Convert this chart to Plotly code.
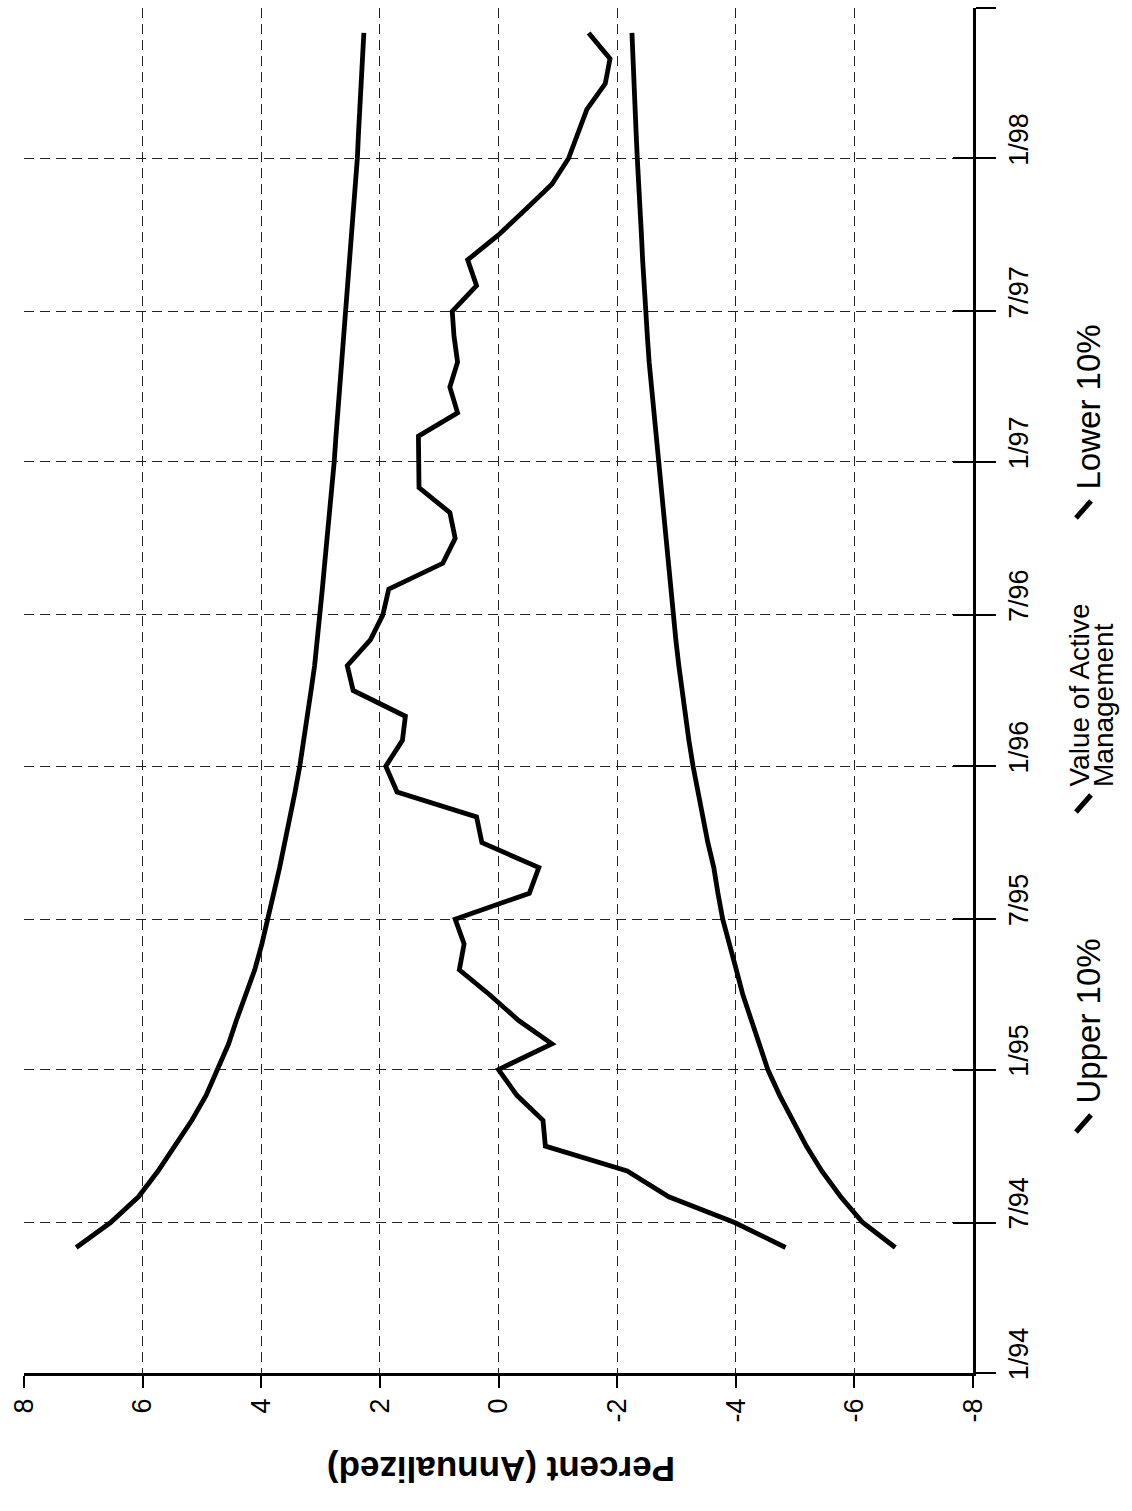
import pandas as pd
import plotly.graph_objects as go

# ---------------- data ----------------
months = pd.date_range("1994-06-01", "1998-06-01", freq="MS")

upper_10 = [7.12, 6.54, 6.07, 5.74, 5.46, 5.17, 4.93,
            4.73, 4.55, 4.42, 4.27, 4.11, 3.99, 3.90, 3.79, 3.69, 3.60, 3.51, 3.43,
            3.35, 3.28, 3.22, 3.16, 3.10, 3.05, 3.01, 2.97, 2.93, 2.89, 2.84, 2.80,
            2.77, 2.74, 2.71, 2.67, 2.64, 2.60, 2.56, 2.53, 2.50, 2.47, 2.43, 2.41,
            2.38, 2.36, 2.34, 2.33, 2.30, 2.27]

value_active = [-4.84, -3.98, -2.87, -2.17, -0.79, -0.75, -0.31,
                0.00, -0.90, -0.34, 0.15, 0.66, 0.58, 0.73, -0.52, -0.68, 0.28, 0.37, 1.71,
                1.90, 1.62, 1.57, 2.45, 2.55, 2.16, 1.95, 1.85, 0.94, 0.73, 0.82, 1.34,
                1.35, 1.35, 0.69, 0.82, 0.69, 0.75, 0.78, 0.37, 0.52, 0.00, -0.46, -0.90,
                -1.18, -1.35, -1.49, -1.80, -1.88, -1.52]

lower_10 = [-6.69, -6.14, -5.77, -5.45, -5.19, -4.95, -4.74,
            -4.54, -4.39, -4.25, -4.12, -4.01, -3.90, -3.78, -3.70, -3.63, -3.53, -3.44, -3.36,
            -3.28, -3.21, -3.15, -3.09, -3.04, -2.99, -2.95, -2.91, -2.87, -2.83, -2.79, -2.74,
            -2.69, -2.65, -2.62, -2.58, -2.54, -2.51, -2.48, -2.45, -2.43, -2.41, -2.38, -2.36,
            -2.34, -2.32, -2.30, -2.28, -2.26, -2.25]

date_ticks = ["1994-01-01", "1994-07-01", "1995-01-01", "1995-07-01", "1996-01-01",
              "1996-07-01", "1997-01-01", "1997-07-01", "1998-01-01", "1998-07-01"]
date_labels = ["1/94", "7/94", "1/95", "7/95", "1/96", "7/96", "1/97", "7/97", "1/98", ""]
pct_ticks = [8, 6, 4, 2, 0, -2, -4, -6, -8]
pct_labels = ["8", "6", "4", "2", "0", "-2", "-4", "-6", "-8"]

legend_names = ["Upper 10%", "Value of Active", "Management", "Lower 10%"]
axis_title = "Percent (Annualized)"

# ---------------- layout geometry (pixels) ----------------
W, H = 1132, 1511
L, R, T, B = 24, 973, 8, 1373
FONT = "Liberation Sans, Arial, Helvetica, sans-serif"


def px(x):
    return (x - L) / (R - L)


def py(y):
    return (B - y) / (B - T)


fig = go.Figure()
for series in (upper_10, value_active, lower_10):
    fig.add_trace(go.Scatter(x=series, y=months, mode="lines",
                             line=dict(color="black", width=4.8),
                             showlegend=False, hoverinfo="skip"))
# helper trace so the overlay axis (inside ticks) is drawn
fig.add_trace(go.Scatter(x=value_active, y=months, yaxis="y2", mode="lines",
                         line=dict(width=0), opacity=0, showlegend=False, hoverinfo="skip"))

yrange = ["1994-01-01", "1998-07-01"]

fig.update_layout(
    width=W, height=H,
    margin=dict(l=L, r=W - R, t=T, b=H - B, pad=0),
    paper_bgcolor="white", plot_bgcolor="white",
    font=dict(family=FONT, size=27, color="black"),
    xaxis=dict(range=[8, -8], tickvals=pct_ticks, ticktext=pct_labels,
               tickangle=-90, ticks="outside", ticklen=12, tickwidth=2, tickcolor="black",
               showline=True, linecolor="black", linewidth=2.5,
               showgrid=True, gridcolor="#222", gridwidth=1.2, griddash="10px,6px",
               zeroline=False, tickfont=dict(size=27)),
    yaxis=dict(type="date", range=yrange, side="right", tickvals=date_ticks, ticktext=date_labels,
               tickangle=-90, ticks="outside", ticklen=20, tickwidth=2, tickcolor="black",
               showline=True, linecolor="black", linewidth=2.5,
               showgrid=True, gridcolor="#222", gridwidth=1.2, griddash="10px,6px",
               zeroline=False, ticklabelshift=-15, tickfont=dict(size=27)),
    yaxis2=dict(type="date", range=yrange, side="right", overlaying="y",
                tickvals=date_ticks, ticks="inside", ticklen=20, tickwidth=2, tickcolor="black",
                showticklabels=False, showgrid=False, showline=False, zeroline=False),
)

# axis title (upside down, as in the rotated page)
fig.add_annotation(text="<b>" + axis_title + "</b>", xref="paper", yref="paper",
                   x=px(501), y=py(1470), textangle=180, showarrow=False,
                   font=dict(size=35, family=FONT), xanchor="center", yanchor="middle")

# custom legend
legend_items = [
    (legend_names[0], 1088, 1106, 33, (1076, 1132, 1091, 1115)),
    (legend_names[1], 1079, 789, 28, (1076, 812, 1091, 795)),
    (legend_names[2], 1103, 789, 28, None),
    (legend_names[3], 1088, 492, 33, (1076, 518, 1091, 501)),
]
for text, cx, by, fs, sl in legend_items:
    fig.add_annotation(text=text, xref="paper", yref="paper", x=px(cx), y=py(by),
                       textangle=-90, showarrow=False, xanchor="center", yanchor="bottom",
                       font=dict(size=fs, family=FONT))
    if sl:
        fig.add_shape(type="line", xref="paper", yref="paper",
                      x0=px(sl[0]), y0=py(sl[1]), x1=px(sl[2]), y1=py(sl[3]),
                      line=dict(color="black", width=5))

fig.write_html("out.html")
